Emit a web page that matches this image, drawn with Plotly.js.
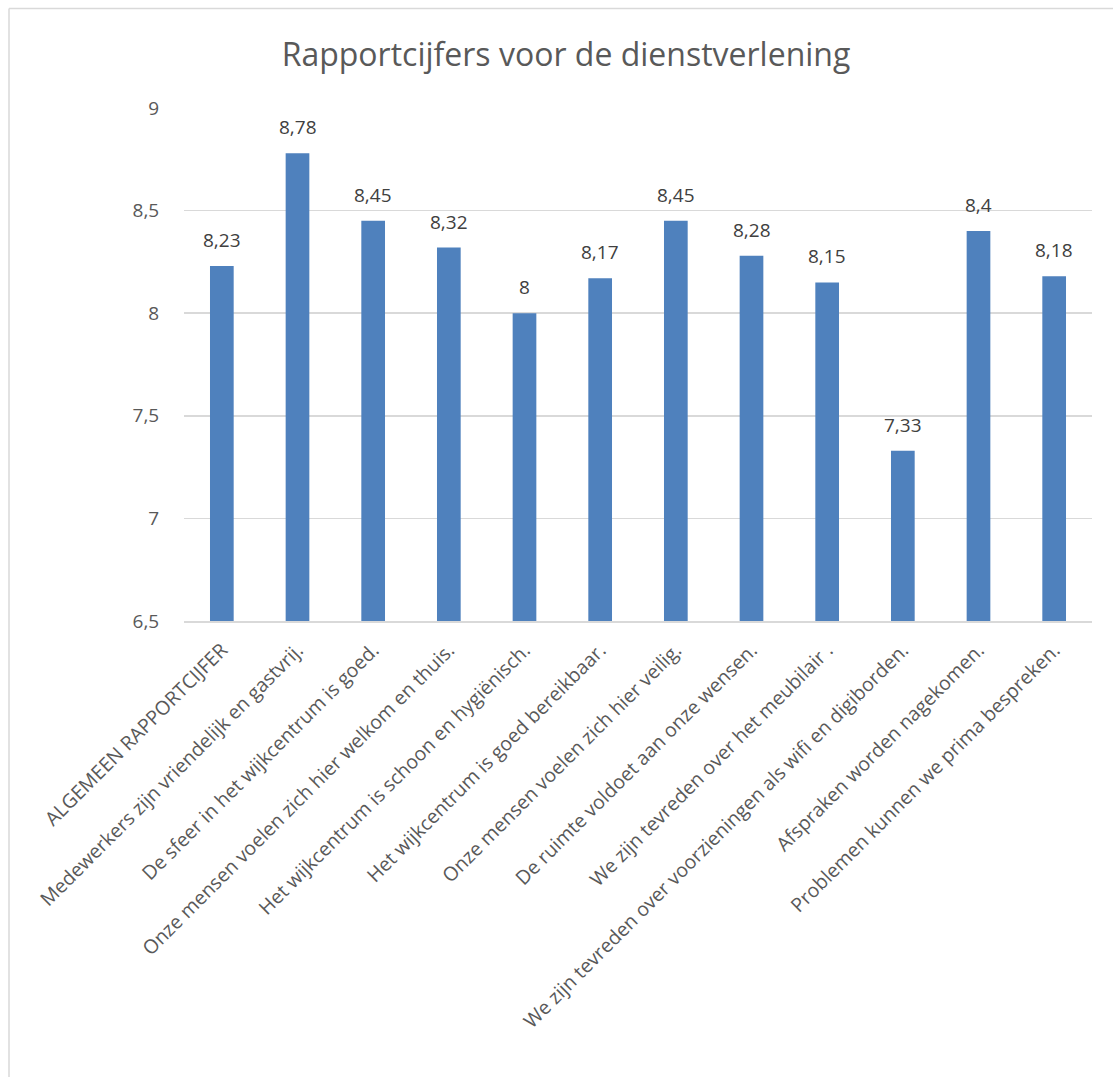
<!DOCTYPE html>
<html>
<head>
<meta charset="utf-8">
<script src="https://cdn.plot.ly/plotly-3.0.1.min.js"></script>
<style>
  html, body { margin: 0; padding: 0; background: #ffffff; }
  #chart { width: 1113px; height: 1077px; }
</style>
</head>
<body>
<div id="chart"></div>
<script>
const categories = [
  "ALGEMEEN RAPPORTCIJFER",
  "Medewerkers zijn vriendelijk en gastvrij.",
  "De sfeer in het wijkcentrum is goed.",
  "Onze mensen voelen zich hier welkom en thuis.",
  "Het wijkcentrum is schoon en hygiënisch.",
  "Het wijkcentrum is goed bereikbaar.",
  "Onze mensen voelen zich hier veilig.",
  "De ruimte voldoet aan onze wensen.",
  "We zijn tevreden over het meubilair .",
  "We zijn tevreden over voorzieningen als wifi en digiborden.",
  "Afspraken worden nagekomen.",
  "Problemen kunnen we prima bespreken."
];
const scores = [8.23, 8.78, 8.45, 8.32, 8, 8.17, 8.45, 8.28, 8.15, 7.33, 8.4, 8.18];
const yTicks = [6.5, 7, 7.5, 8, 8.5, 9];

const W = 1113, H = 1077;
const M = { l: 184, r: 21, t: 108, b: 456 };
const pw = W - M.l - M.r, ph = H - M.t - M.b;
const px2x = p => (p - M.l) / pw;
const px2y = p => (H - M.b - p) / ph;

const font = "'Open Sans', 'Segoe UI', sans-serif";
const fmt = v => String(v).replace(".", ",");

const trace = {
  type: "bar",
  x: categories,
  y: scores,
  marker: { color: "#4F81BD", line: { width: 0 } },
  hoverinfo: "x+y"
};

const labels = categories.map((c, i) => ({
  x: c, y: scores[i], xref: "x", yref: "y",
  text: fmt(scores[i]), showarrow: false,
  yanchor: "bottom", yshift: 11,
  font: { family: font, size: 19, color: "#404040" }
}));

const layout = {
  width: W, height: H,
  margin: M,
  paper_bgcolor: "#ffffff",
  plot_bgcolor: "#ffffff",
  separators: ",.",
  showlegend: false,
  bargap: 0.687,
  title: {
    text: "Rapportcijfers voor de dienstverlening",
    font: { family: font, size: 32, color: "#595959" },
    x: 566 / W, xref: "container", xanchor: "center",
    y: 1 - 55 / H, yref: "container", yanchor: "middle"
  },
  xaxis: {
    type: "category",
    tickangle: -45,
    tickfont: { family: font, size: 19.5, color: "#595959" },
    showline: true, linecolor: "#d9d9d9", linewidth: 2,
    showgrid: false, ticks: "outside", ticklen: 8, tickcolor: "rgba(0,0,0,0)",
    automargin: false
  },
  yaxis: {
    range: [6.5, 9],
    tickvals: yTicks,
    ticktext: yTicks.map(fmt),
    tickfont: { family: font, size: 19, color: "#595959" },
    showgrid: true, gridcolor: "#d9d9d9", gridwidth: 1.5,
    zeroline: false, showline: false,
    ticks: "outside", ticklen: 20, tickcolor: "rgba(0,0,0,0)",
    automargin: false
  },
  annotations: labels,
  shapes: [
    { type: "line", xref: "paper", yref: "paper",
      x0: px2x(9), x1: px2x(W + 5), y0: px2y(8.5), y1: px2y(8.5),
      line: { color: "#d9d9d9", width: 1.5 } },
    { type: "line", xref: "paper", yref: "paper",
      x0: px2x(9), x1: px2x(9), y0: px2y(8.5), y1: px2y(H + 5),
      line: { color: "#d9d9d9", width: 1.5 } }
  ]
};

Plotly.newPlot("chart", [trace], layout, { displayModeBar: false, staticPlot: true });
</script>
</body>
</html>
